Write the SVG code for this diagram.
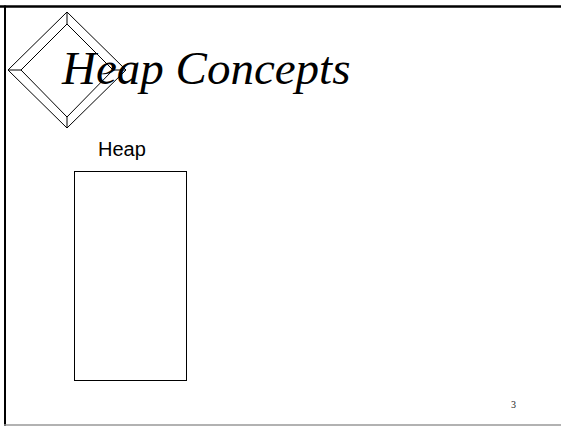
<svg xmlns="http://www.w3.org/2000/svg" width="561" height="426" viewBox="0 0 561 426">
<style>
.ln{fill:none;stroke:#000;stroke-width:1}
.title{font-family:"Liberation Serif",serif;font-style:italic;font-size:47px;fill:#000}
.lbl{font-family:"Liberation Sans",sans-serif;font-size:20px;fill:#000}
.num{font-family:"Liberation Serif",serif;font-size:10px;fill:#222}
</style>
<rect width="561" height="426" fill="#fff"/>
<g id="frame">
<line x1="0" y1="6.5" x2="561" y2="6.5" stroke="#000" stroke-width="2.5"/>
<line x1="5" y1="5.5" x2="5" y2="426" stroke="#000" stroke-width="2"/>
<line x1="4" y1="425" x2="561" y2="425" stroke="#999" stroke-width="1.5"/>
</g>
<g id="diamond">
<polygon class="ln" points="67,12 126,70 67,128 8,70"/>
<polygon class="ln" points="67,24 113,70 67,117 21,70"/>
<line class="ln" x1="67" y1="12" x2="67" y2="24"/>
<line class="ln" x1="8" y1="70" x2="21" y2="70"/>
<line class="ln" x1="67" y1="128" x2="67" y2="117"/>
<line class="ln" x1="126" y1="70" x2="113" y2="70"/>
</g>
<g id="title"><text class="title" x="62" y="84">Heap Concepts</text></g>
<g id="heap">
<text class="lbl" x="98" y="156">Heap</text>
<rect class="ln" x="74.5" y="171.5" width="112" height="209"/>
</g>
<g id="pagenum"><text class="num" x="511" y="408">3</text></g>
</svg>
